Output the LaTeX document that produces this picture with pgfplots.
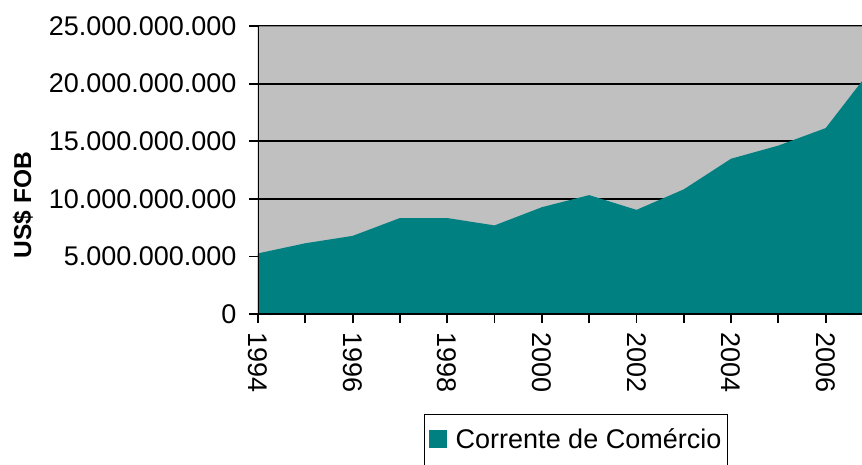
\documentclass[border=0pt]{standalone}
\usepackage{fontspec}
\setmainfont{Liberation Sans}
\usepackage{pgfplots}
\pgfplotsset{compat=1.18}
\definecolor{plotgray}{HTML}{C0C0C0}
\definecolor{areateal}{HTML}{008080}
\begin{document}
\begin{tikzpicture}
\path[use as bounding box] (0pt,0pt) rectangle (862pt,464pt);
\clip (0pt,0pt) rectangle (862pt,464pt);
\begin{axis}[
  at={(258pt,150pt)}, anchor=south west,
  scale only axis, width=615pt, height=288pt,
  xmin=1994, xmax=2007, ymin=0, ymax=25000000000,
  axis background/.style={fill=plotgray},
  axis line style={draw=none},
  tick align=outside, major tick length=9pt,
  tick style={black, line width=1.8pt},
  xtick={1994,1995,1996,1997,1998,1999,2000,2001,2002,2003,2004,2005,2006,2007},
  xticklabels={1994,,1996,,1998,,2000,,2002,,2004,,2006,},
  ytick={0,5000000000,10000000000,15000000000,20000000000,25000000000},
  yticklabels={0,5.000.000.000,10.000.000.000,15.000.000.000,20.000.000.000,25.000.000.000},
  scaled y ticks=false,
  xtick pos=bottom, ytick pos=left,
  /pgf/number format/assume math mode=true,
  ticklabel style={font=\fontsize{27}{32}\selectfont},
  xticklabel style={rotate=-90, anchor=west, xshift=6pt},
  yticklabel style={anchor=east, xshift=-9pt},
  ymajorgrids, grid style={black, line width=2pt},
  ylabel={US\$ FOB},
  ylabel style={font=\bfseries\fontsize{24.5}{29}\selectfont, at={(axis description cs:-0.382,0.378)}, anchor=center},
  legend style={at={(axis description cs:0.2699,-0.347)}, anchor=north west,
    draw=black, line width=1.5pt, font=\fontsize{27}{32}\selectfont,
    inner xsep=4pt, inner ysep=12pt},
  legend image code/.code={\fill[areateal] (0pt,-8.5pt) rectangle (18pt,9.5pt);\path (25pt,0pt);\path (0pt,-18pt);},
]
\addplot[fill=areateal, draw=none] coordinates {
  (1994,5260000000) (1995,6140000000) (1996,6780000000) (1997,8330000000)
  (1998,8330000000) (1999,7690000000) (2000,9270000000) (2001,10320000000)
  (2002,9040000000) (2003,10820000000) (2004,13480000000) (2005,14620000000)
  (2006,16140000000) (2007,21450000000)
} \closedcycle;
\addlegendentry{Corrente de Comércio\hspace{7pt}}
\draw[gray, line width=2pt] (rel axis cs:0,1) -- (rel axis cs:1,1);
\draw[black, line width=2pt] (rel axis cs:0,1) -- (rel axis cs:0,0) -- (rel axis cs:1,0);
\end{axis}
\end{tikzpicture}
\end{document}
